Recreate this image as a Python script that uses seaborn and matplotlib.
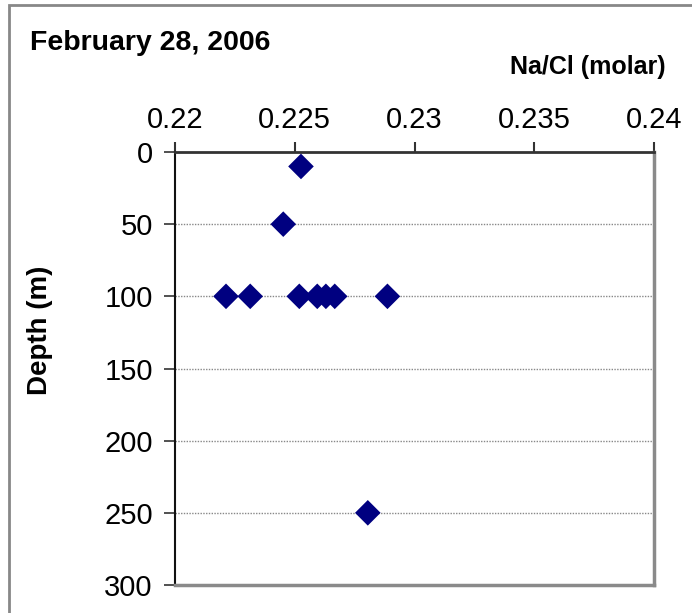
import matplotlib
matplotlib.use("Agg")
import matplotlib.pyplot as plt
import seaborn as sns
import pandas as pd
from matplotlib.patches import Rectangle

na_cl = [0.22526, 0.22452, 0.22213, 0.22314, 0.22519, 0.22594, 0.2263, 0.22667, 0.22887, 0.22805]
depth = [10, 50, 100, 100, 100, 100, 100, 100, 100, 250]
x_ticks = [0.22, 0.225, 0.23, 0.235, 0.24]
x_tick_labels = ["0.22", "0.225", "0.23", "0.235", "0.24"]
y_ticks = [0, 50, 100, 150, 200, 250, 300]

sns.set_style("white")
plt.rcParams["font.family"] = ["Liberation Sans", "DejaVu Sans"]
plt.rcParams["text.color"] = "black"
plt.rcParams["xtick.color"] = "black"
plt.rcParams["ytick.color"] = "black"

W, H = 692, 613
fig = plt.figure(figsize=(W / 100, H / 100), dpi=100)
ax = fig.add_axes([175 / W, 1 - 585 / H, (654 - 175) / W, (585 - 152) / H])

df = pd.DataFrame({"na_cl": na_cl, "depth": depth})
sns.scatterplot(data=df, x="na_cl", y="depth", marker="D", s=170,
                color="#000080", edgecolor="none", ax=ax, zorder=3, legend=False)

ax.set_xlim(0.22, 0.24)
ax.set_ylim(300, 0)
ax.xaxis.tick_top()
ax.set_xticks(x_ticks)
ax.set_xticklabels(x_tick_labels)
ax.set_yticks(y_ticks)
ax.set_xlabel("")
ax.set_ylabel("")
ax.tick_params(axis="x", direction="out", length=7, width=1.5, color="#333333",
               labelcolor="black", labelsize=21, pad=6, top=True, bottom=False)
ax.tick_params(axis="y", direction="out", length=8, width=1.2, color="#333333",
               labelcolor="black", labelsize=21, pad=8, left=True)

for yv in [50, 100, 150, 200, 250]:
    ax.axhline(yv, color="#888888", linestyle=(0, (1, 1)), linewidth=1.0, zorder=1)

ax.spines["left"].set_color("#111111")
ax.spines["left"].set_linewidth(1.5)
ax.spines["top"].set_color("#333333")
ax.spines["top"].set_linewidth(2.0)
ax.spines["right"].set_color("#8a8a8a")
ax.spines["right"].set_linewidth(2.5)
ax.spines["bottom"].set_color("#8a8a8a")
ax.spines["bottom"].set_linewidth(2.5)

fig.text(30 / W, 1 - 43 / H, "February 28, 2006", fontsize=20.5, fontweight="bold",
         ha="left", va="center", color="black")
fig.text(510 / W, 1 - 67 / H, "Na/Cl (molar)", fontsize=18, fontweight="bold",
         ha="left", va="center", color="black")
fig.text(40 / W, 1 - 330 / H, "Depth (m)", fontsize=20, fontweight="bold",
         ha="center", va="center", rotation=90, color="black")

frame = Rectangle((9 / W, -0.1), 1.2, 1 - 5 / H + 0.1, transform=fig.transFigure,
                  fill=False, edgecolor="#888888", linewidth=2.0)
fig.patches.append(frame)

fig.savefig("out.png", dpi=100)
